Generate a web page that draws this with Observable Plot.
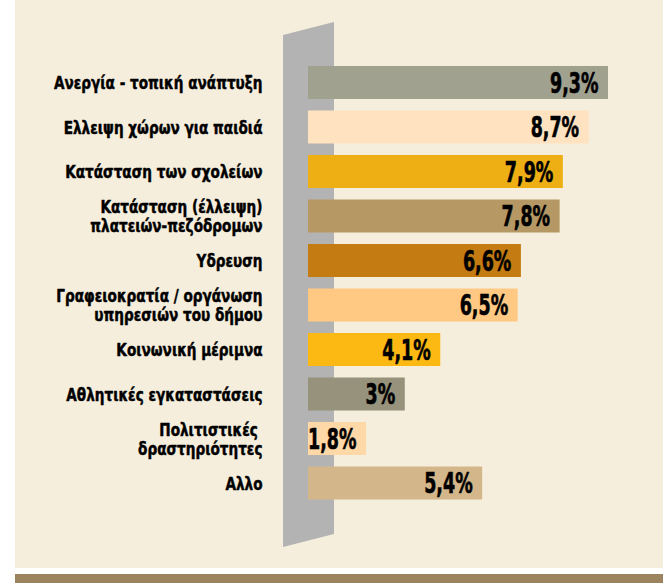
<!DOCTYPE html>
<html>
<head>
<meta charset="utf-8">
<script src="https://cdn.jsdelivr.net/npm/d3@7"></script>
<script src="https://cdn.jsdelivr.net/npm/@observablehq/plot@0.6"></script>
<style>
  html, body { margin: 0; padding: 0; background: #ffffff; }
  #wrap { position: relative; width: 663px; height: 583px; overflow: hidden; }
  #panel { position: absolute; left: 15px; top: 0; width: 648px; height: 568px; background: #F6EEDD; }
  #strip { position: absolute; left: 15px; top: 574px; width: 648px; height: 9px; background: #9B845E; }
  #pillar { position: absolute; left: 283px; top: 22px; width: 51px; height: 525px; background: #B3B3B3;
            clip-path: polygon(0px 13px, 51px 0px, 51px 512px, 0px 525px); }
  #chart { position: absolute; left: 0; top: 0; }
</style>
</head>
<body>
<div id="wrap">
  <div id="panel"></div>
  <div id="strip"></div>
  <div id="pillar"></div>
  <div id="chart"></div>
</div>
<script>
const categories = [
  "Ανεργία - τοπική ανάπτυξη",
  "Ελλειψη χώρων για παιδιά",
  "Κατάσταση των σχολείων",
  "Κατάσταση (έλλειψη)\nπλατειών-πεζόδρομων",
  "Υδρευση",
  "Γραφειοκρατία / οργάνωση\nυπηρεσιών του δήμου",
  "Κοινωνική μέριμνα",
  "Αθλητικές εγκαταστάσεις",
  "Πολιτιστικές \nδραστηριότητες",
  "Αλλο"
];
const values = [9.3, 8.7, 7.9, 7.8, 6.6, 6.5, 4.1, 3.0, 1.8, 5.4];
const palette = ["#A1A18F", "#FFE2C0", "#EDAF14", "#B69865", "#C47B11", "#FFC983", "#FDB913", "#97927B", "#FFD8A8", "#D3B78A"];

const data = categories.map((c, i) => ({category: c, value: values[i]}));
const fmt = v => String(v).replace(".", ",") + "%";
const FONT = "'Liberation Sans Narrow', 'DejaVu Sans Condensed', sans-serif";

const chart = Plot.plot({
  width: 663,
  height: 583,
  margin: 0,
  style: {background: "transparent", fontFamily: FONT},
  x: {domain: [0, 9.3], range: [308, 608], axis: null},
  y: {domain: categories, range: [54.5, 511], padding: 0.258, round: false, axis: null},
  color: {domain: categories, range: palette},
  marks: [
    Plot.barX(data, {x: "value", y: "category", fill: "category"}),
    Plot.text(data, {
      x: 0, y: "category", text: "category", textAnchor: "end", dx: -46,
      fontSize: 17, fontWeight: "bold", fill: "#000", stroke: "#000", strokeWidth: 0.45,
      lineHeight: 1.08, className: "cat-label"
    }),
    Plot.text(data, {
      x: "value", y: "category", text: d => fmt(d.value), textAnchor: "end", dx: -10, dy: 1,
      fontSize: 27, fontWeight: "bold", fill: "#000", stroke: "#000", strokeWidth: 0.6,
      className: "val-label"
    })
  ]
});

// condense glyphs (about each text's own anchor) to mimic the narrow heavy typeface of the original
function condense(selector, sx, sy) {
  chart.querySelectorAll(selector + " text").forEach(t => {
    const tr = t.getAttribute("transform") || "";
    t.setAttribute("transform", `${tr} scale(${sx},${sy})`);
  });
}
condense(".cat-label", 0.89, 1.05);
condense(".val-label", 0.72, 1.02);

document.getElementById("chart").appendChild(chart);
</script>
</body>
</html>
